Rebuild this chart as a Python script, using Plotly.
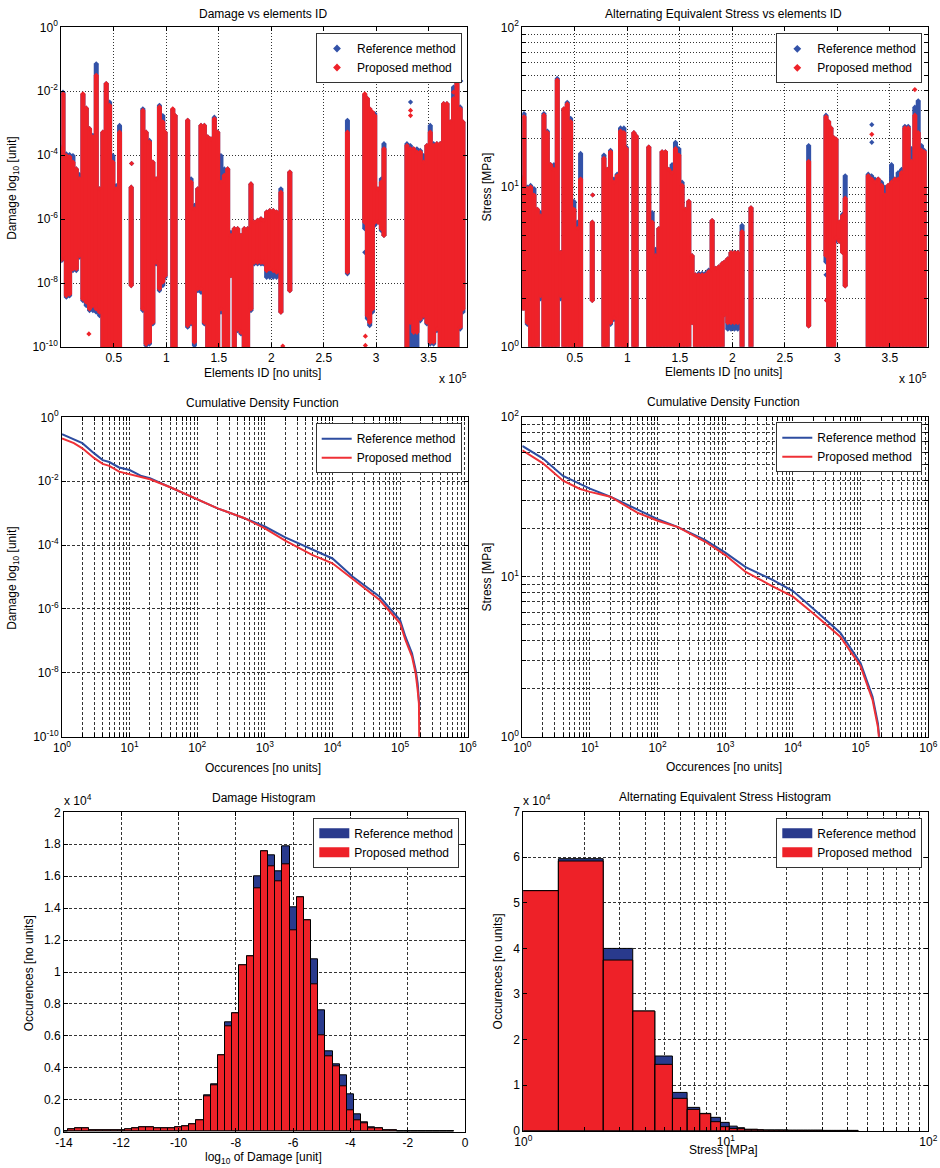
import plotly.graph_objects as go

W, H = 940, 1168
OFF = 0
FONT = "Liberation Sans, Arial, sans-serif"

# ---------------- data: element-wise scatter (column extents, log10 values) ----------------
elem_id = [300, 1600, 4800, 7900, 11100, 14300, 17400, 20600, 23800, 26900, 30100, 33300, 36500, 39600,
           42800, 46000, 49100, 52300, 55500,
           66600,
           77700, 80800, 84000, 87200, 90300, 93500, 96700, 98900,
           106200, 108400,
           120400, 123600, 126800, 130000, 133100, 136300, 139500, 142600, 145800, 149000, 152100, 155300,
           158500, 161600, 164800, 168000, 171200, 174300, 177500, 180700, 183800, 187000, 190200, 192400,
           195600, 198700, 201900, 205100, 209200,
           217700,
           272600,
           289100, 291600, 293800, 296400, 298600, 301700, 304900, 307400,
           329300, 332500, 335700, 338800, 342000, 345200, 348300, 351500, 354700, 357800, 361000, 364200,
           367400, 370500, 373700, 376900, 380000, 382600]

dmg_prop_hi_log10 = [-3.80, -2.08, -4.01, -4.05, -4.22, -4.43, -4.74, -2.08, -2.53, -3.17, -3.43, -1.50, -5.05, -3.28,
                     -1.76, -2.44, -4.22, -5.05, -3.28,
                     -5.00,
                     -2.60, -3.28, -3.59, -4.22, -4.74, -2.49, -2.96, -3.28,
                     -2.55, -2.76,
                     -2.91, -4.84, -5.68, -5.05, -3.07, -3.07, -3.43, -3.49, -2.86, -3.28, -4.84, -4.63,
                     -4.43, -6.51, -6.30, -6.30, -6.51, -6.30, -6.30, -4.90, -6.10, -6.04, -5.99, -6.04,
                     -5.78, -5.73, -5.73, -5.78, -5.16,
                     -4.53,
                     -3.28,
                     -2.08, -2.23, -2.55, -2.65, -2.76, -5.05, -4.84, -3.80,
                     -3.70, -3.80, -3.80, -3.90, -3.90, -4.22, -3.70, -3.28, -3.70, -3.64, -3.64, -2.39,
                     -2.39, -2.96, -2.23, -1.71, -2.55, -2.96]
dmg_prop_lo_log10 = [-7.27, -7.14, -8.39, -8.35, -7.56, -7.56, -7.14, -8.50, -8.60, -8.81, -8.71, -8.81, -8.91, -10.3,
                     -10.3, -10.3, -10.3, -10.3, -10.3,
                     -8.08,
                     -8.81, -9.91, -9.85, -9.23, -7.35, -8.18, -7.97, -7.77,
                     -10.3, -10.3,
                     -9.33, -9.23, -9.85, -8.18, -8.18, -9.23, -10.3, -10.3, -10.3, -10.3, -8.81, -10.3,
                     -10.3, -7.77, -10.3, -9.44, -9.54, -10.3, -10.3, -8.81, -7.35, -7.35, -7.35, -7.35,
                     -7.61, -7.56, -7.61, -7.66, -8.91,
                     -8.24,
                     -7.66,
                     -6.10, -9.02, -9.23, -8.81, -6.10, -6.10, -6.30, -6.51,
                     -10.3, -9.23, -9.54, -9.54, -9.12, -9.02, -9.23, -9.85, -9.85, -9.44, -10.3, -10.3,
                     -10.3, -10.3, -10.3, -10.3, -9.38, -8.81]
dmg_ref_hi_log10 = [-3.75, -2.03, -3.96, -3.98, -4.01, -4.43, -4.61, -2.10, -2.53, -3.17, -3.38, -1.14, -5.05, -3.28,
                    -1.76, -2.34, -4.01, -4.95, -3.07,
                    -5.00,
                    -2.55, -3.28, -3.54, -4.22, -4.74, -2.44, -2.76, -3.28,
                    -2.57, -2.76,
                    -2.91, -4.74, -5.57, -5.05, -3.07, -3.07, -3.43, -3.49, -2.81, -3.28, -4.01, -4.43,
                    -4.43, -6.41, -6.30, -6.30, -6.51, -6.30, -6.30, -4.90, -6.10, -6.04, -5.99, -6.04,
                    -5.78, -5.73, -5.73, -5.78, -5.05,
                    -4.53,
                    -2.91,
                    -2.11, -2.23, -2.55, -2.70, -2.70, -5.05, -4.74, -3.64,
                    -3.64, -3.70, -3.80, -3.80, -3.85, -4.01, -3.70, -3.07, -3.64, -3.64, -3.64, -2.39,
                    -2.39, -2.96, -1.87, -1.66, -2.49, -2.96]
dmg_ref_lo_log10 = [-7.30, -7.19, -8.44, -8.40, -7.61, -7.61, -7.19, -8.55, -8.71, -8.86, -8.86, -8.91, -9.02, -10.3,
                    -10.3, -10.3, -10.3, -10.3, -10.3,
                    -8.08,
                    -8.86, -9.96, -9.91, -9.28, -7.40, -8.24, -8.08, -7.82,
                    -10.3, -10.3,
                    -9.38, -9.28, -9.96, -8.24, -8.29, -9.28, -10.3, -10.3, -10.3, -10.3, -8.91, -10.3,
                    -10.3, -7.77, -10.3, -9.49, -9.59, -10.3, -10.3, -8.86, -7.40, -7.40, -7.40, -7.40,
                    -7.82, -7.82, -7.82, -7.82, -8.91,
                    -8.24,
                    -7.71,
                    -6.30, -9.12, -9.33, -8.91, -6.20, -6.10, -6.36, -6.51,
                    -10.3, -10.3, -9.96, -10.3, -9.18, -9.07, -9.28, -9.91, -9.91, -9.49, -10.3, -10.3,
                    -10.3, -10.3, -10.3, -10.3, -9.44, -8.91]

# isolated damage points
dmg_ref_pt_id = [67000, 380600, 289100, 332700]
dmg_ref_pt_log10 = [-4.26, -1.68, -7.04, -2.34]
dmg_prop_pt_id = [26300, 67000, 289700, 289700, 211000, 373700, 373700, 332700, 332700]
dmg_prop_pt_log10 = [-9.59, -4.26, -9.66, -9.95, -9.97, -1.50, -2.03, -2.60, -2.76]

str_prop_hi_log10 = [1.05, 1.44, 0.99, 1.00, 0.95, 0.86, 0.82, 1.45, 1.34, 1.14, 1.11, 1.67, 0.59, 1.49,
                     1.52, 1.41, 0.86, 0.74, 1.05,
                     0.78,
                     1.18, 1.11, 1.22, 1.03, 1.07, 1.35, 1.34, 1.24,
                     1.34, 1.32,
                     1.25, 0.78, 0.57, 0.74, 1.22, 1.22, 1.11, 1.09, 1.24, 1.20, 1.01, 0.86,
                     0.91, 0.57, 0.45, 0.45, 0.45, 0.45, 0.47, 0.79, 0.49, 0.50, 0.52, 0.53,
                     0.55, 0.59, 0.59, 0.59, 0.72,
                     0.87,
                     1.16,
                     1.44, 1.41, 1.37, 1.31, 1.30, 0.78, 0.82, 0.93,
                     1.07, 1.05, 1.03, 1.05, 1.01, 0.95, 1.01, 1.03, 1.05, 1.05, 1.09, 1.37,
                     1.37, 1.16, 1.45, 1.34, 1.23, 1.22]
str_prop_lo_log10 = [0.24, 0.24, 0.15, -0.1, -0.1, -0.1, 0.32, -0.1, -0.1, -0.1, -0.1, -0.1, 0.32, -0.1,
                     -0.1, -0.1, -0.1, -0.1, -0.1,
                     0.29,
                     -0.1, -0.1, 0.15, 0.18, -0.1, -0.1, -0.1, -0.1,
                     -0.1, -0.1,
                     -0.1, -0.1, -0.1, -0.1, -0.1, -0.1, -0.1, -0.1, -0.1, -0.1, -0.1, -0.1,
                     -0.1, 0.15, -0.1, -0.1, -0.1, -0.1, -0.1, -0.1, -0.1, -0.1, -0.1, 0.20,
                     0.15, 0.15, 0.15, 0.15, -0.1,
                     -0.1,
                     0.13,
                     0.57, -0.1, -0.1, -0.1, 0.68, 0.66, 0.59, 0.38,
                     -0.1, -0.1, -0.1, -0.1, -0.1, -0.1, -0.1, -0.1, -0.1, -0.1, -0.1, -0.1,
                     -0.1, -0.1, -0.1, -0.1, -0.1, -0.1]
str_ref_hi_log10 = [1.06, 1.46, 1.00, 1.01, 0.99, 0.86, 0.84, 1.46, 1.35, 1.14, 1.14, 1.68, 0.59, 1.49,
                    1.53, 1.43, 0.91, 0.78, 1.21,
                    0.78,
                    1.20, 1.11, 1.23, 1.05, 1.08, 1.37, 1.37, 1.25,
                    1.34, 1.32,
                    1.25, 0.84, 0.61, 0.74, 1.22, 1.22, 1.11, 1.14, 1.28, 1.24, 1.03, 0.86,
                    0.91, 0.57, 0.45, 0.46, 0.46, 0.46, 0.48, 0.79, 0.49, 0.50, 0.52, 0.53,
                    0.55, 0.59, 0.59, 0.59, 0.76,
                    0.87,
                    1.26,
                    1.45, 1.41, 1.37, 1.31, 1.30, 0.78, 0.83, 1.07,
                    1.08, 1.07, 1.05, 1.05, 1.03, 1.00, 1.01, 1.14, 1.05, 1.09, 1.11, 1.38,
                    1.38, 1.24, 1.50, 1.54, 1.26, 1.23]
str_ref_lo_log10 = [0.24, 0.24, 0.14, -0.1, -0.1, -0.1, 0.30, -0.1, -0.1, -0.1, -0.1, -0.1, 0.30, -0.1,
                    -0.1, -0.1, -0.1, -0.1, -0.1,
                    0.29,
                    -0.1, -0.1, 0.14, 0.17, -0.1, -0.1, -0.1, -0.1,
                    -0.1, -0.1,
                    -0.1, -0.1, -0.1, -0.1, -0.1, -0.1, -0.1, -0.1, -0.1, -0.1, -0.1, -0.1,
                    -0.1, 0.15, -0.1, -0.1, -0.1, -0.1, -0.1, -0.1, -0.1, -0.1, -0.1, 0.20,
                    0.11, 0.11, 0.11, 0.11, -0.1,
                    -0.1,
                    0.13,
                    0.53, -0.1, -0.1, -0.1, 0.66, 0.66, 0.59, 0.38,
                    -0.1, -0.1, -0.1, -0.1, -0.1, -0.1, -0.1, -0.1, -0.1, -0.1, -0.1, -0.1,
                    -0.1, -0.1, -0.1, -0.1, -0.1, -0.1]

str_ref_pt_id = [332700, 332700, 67000, 289100, 289700]
str_ref_pt_log10 = [1.39, 1.28, 0.95, 0.45, 0.29]
str_prop_pt_id = [67000, 373700, 373700, 332700, 289700]
str_prop_pt_log10 = [0.95, 1.71, 1.61, 1.33, 0.29]

# ---------------- data: cumulative curves ----------------
cdf_dmg_occ = [1, 1.5, 2, 3, 4, 5, 7, 10, 15, 20, 40, 100, 200, 500, 1000, 2000, 5000, 10000, 20000,
               50000, 100000, 120000, 150000, 170000, 182000, 190000, 193000]
cdf_dmg_ref_log10 = [-0.53, -0.69, -0.81, -1.13, -1.34, -1.40, -1.57, -1.65, -1.84, -1.91, -2.19, -2.57, -2.85,
                     -3.16, -3.42, -3.76, -4.15, -4.42, -4.99, -5.62, -6.35, -6.87, -7.39, -7.91, -8.33,
                     -8.75, -9.06]
cdf_dmg_prop_log10 = [-0.66, -0.81, -0.97, -1.28, -1.46, -1.52, -1.70, -1.78, -1.86, -1.94, -2.19, -2.57, -2.85,
                      -3.16, -3.48, -3.86, -4.31, -4.57, -5.07, -5.72, -6.45, -6.97, -7.49, -8.02, -8.54,
                      -8.96, -10.6]

cdf_str_occ = [1, 2, 4, 7, 10, 20, 50, 100, 200, 500, 1000, 2000, 5000, 10000, 20000, 50000, 100000,
               150000, 180000, 190000]
cdf_str_ref_log10 = [1.817, 1.74, 1.63, 1.58, 1.55, 1.50, 1.42, 1.36, 1.31, 1.23, 1.15, 1.06, 0.98, 0.91,
                     0.80, 0.65, 0.46, 0.25, 0.083, -0.02]
cdf_str_prop_log10 = [1.79, 1.71, 1.60, 1.55, 1.53, 1.50, 1.40, 1.35, 1.31, 1.22, 1.135, 1.03, 0.94, 0.875,
                      0.77, 0.625, 0.44, 0.23, 0.06, -0.04]

# ---------------- data: histograms ----------------
dmg_bin_centers = [-14.0, -13.75, -13.5, -13.25, -13.0, -12.75, -12.5, -12.25, -12.0, -11.75, -11.5, -11.25,
                   -11.0, -10.75, -10.5, -10.25, -10.0, -9.75, -9.5, -9.25, -9.0, -8.75, -8.5, -8.25, -8.0,
                   -7.75, -7.5, -7.25, -7.0, -6.75, -6.5, -6.25, -6.0, -5.75, -5.5, -5.25, -5.0, -4.75, -4.5,
                   -4.25, -4.0, -3.75, -3.5, -3.25, -3.0, -2.75, -2.5, -2.25, -2.0, -1.75, -1.5, -1.25, -1.0,
                   -0.75, -0.5]
dmg_hist_ref = [50, 150, 200, 200, 100, 100, 100, 100, 100, 150, 200, 270, 270, 200, 200, 200, 270, 350, 480,
                730, 2250, 2940, 4780, 6830, 7410, 10400, 10960, 15970, 17550, 17300, 16330, 17890, 14050,
                14680, 13260, 10790, 7580, 5010, 4240, 3530, 2320, 1070, 560, 270, 190, 90, 90, 40, 40, 40,
                40, 30, 30, 30, 30]
dmg_hist_prop = [50, 150, 200, 200, 100, 100, 100, 100, 100, 150, 200, 270, 270, 200, 200, 200, 270, 350, 480,
                 730, 2230, 2920, 4780, 6580, 7410, 10400, 10960, 15240, 17550, 16600, 15660, 16760, 12590,
                 14680, 13260, 9230, 6050, 4700, 4110, 2820, 1360, 690, 520, 230, 190, 90, 90, 40, 40, 40,
                 40, 30, 30, 30, 30]

str_bin_edges = [0.50, 1.49, 2.48, 3.47, 4.46, 5.45, 6.44, 7.43, 8.42, 9.41, 10.40, 11.39, 12.38, 13.37, 14.36,
                 15.35, 16.34, 17.33, 18.32, 19.31, 20.30, 21.29, 22.28, 23.27, 24.26, 25.25, 26.24, 27.23,
                 28.22, 29.21, 30.20, 31.19, 32.18, 33.17, 34.16, 35.15, 36.14, 37.13, 38.12, 39.11, 40.10,
                 41.09, 42.08, 43.07, 44.06, 45.05]
str_hist_ref = [52700, 59690, 40000, 26260, 16390, 8400, 5120, 3800, 2930, 1830, 1000, 660, 300, 300, 200,
                150, 150, 150, 150, 150, 100, 100, 100, 100, 100, 100, 100, 100, 100, 100,
                60, 60, 60, 60, 60, 60, 60, 60, 60, 60, 60, 60, 60, 60, 60]
str_hist_prop = [52670, 59180, 37450, 26260, 14560, 7100, 4680, 3730, 1980, 880, 500, 440, 300, 300, 200,
                 150, 150, 150, 150, 150, 100, 100, 100, 100, 100, 100, 100, 100, 100, 100,
                 60, 60, 60, 60, 60, 60, 60, 60, 60, 60, 60, 60, 60, 60, 60]

labels = ["Reference method", "Proposed method"]

# ---------------- colours ----------------
SC_BLUE, SC_RED = "#3352a8", "#ee2229"
LN_BLUE, LN_RED = "#2e4da0", "#ef3036"
BAR_BLUE, BAR_RED = "#293a8d", "#ee2128"


def columns(ids, lo, hi):
    xs, ys = [], []
    for x, a, b in zip(ids, lo, hi):
        xs += [x, x, None]
        ys += [10 ** a, 10 ** b, None]
    return xs, ys


def pw(vals):
    return [10 ** v for v in vals]


def rects(edges, counts):
    xs, ys = [], []
    for i, c in enumerate(counts):
        l, r = edges[i], edges[i + 1]
        xs += [l, l, r, r, l, None]
        ys += [0, c, c, 0, 0, None]
    return xs, ys


fig = go.Figure()

# ---- top row scatter-like columns ----
for (xa, ya, leg, r_lo, r_hi, p_lo, p_hi, rp_id, rp_v, pp_id, pp_v) in [
    ("x", "y", "legend", dmg_ref_lo_log10, dmg_ref_hi_log10, dmg_prop_lo_log10, dmg_prop_hi_log10,
     dmg_ref_pt_id, dmg_ref_pt_log10, dmg_prop_pt_id, dmg_prop_pt_log10),
    ("x2", "y2", "legend2", str_ref_lo_log10, str_ref_hi_log10, str_prop_lo_log10, str_prop_hi_log10,
     str_ref_pt_id, str_ref_pt_log10, str_prop_pt_id, str_prop_pt_log10),
]:
    for lo, hi, pid, pv, col in [(r_lo, r_hi, rp_id, rp_v, SC_BLUE), (p_lo, p_hi, pp_id, pp_v, SC_RED)]:
        xs, ys = columns(elem_id, lo, hi)
        fig.add_trace(go.Scatter(x=xs, y=ys, mode="lines+markers", xaxis=xa, yaxis=ya, showlegend=False,
                                 line=dict(color=col, width=5),
                                 marker=dict(symbol="diamond", size=4, color=col), hoverinfo="skip"))
        fig.add_trace(go.Scatter(x=pid, y=pw(pv), mode="markers", xaxis=xa, yaxis=ya, showlegend=False,
                                 marker=dict(symbol="diamond", size=4, color=col), hoverinfo="skip"))
    for name, col in zip(labels, [SC_BLUE, SC_RED]):
        fig.add_trace(go.Scatter(x=[None], y=[None], mode="markers", xaxis=xa, yaxis=ya, name=name,
                                 legend=leg, marker=dict(symbol="diamond", size=6, color=col)))

# ---- middle row CDF ----
for xa, ya, leg, occ, ref, prop in [("x3", "y3", "legend3", cdf_dmg_occ, cdf_dmg_ref_log10, cdf_dmg_prop_log10),
                                    ("x4", "y4", "legend4", cdf_str_occ, cdf_str_ref_log10, cdf_str_prop_log10)]:
    for name, vals, col in zip(labels, [ref, prop], [LN_BLUE, LN_RED]):
        fig.add_trace(go.Scatter(x=occ, y=pw(vals), mode="lines", xaxis=xa, yaxis=ya, name=name, legend=leg,
                                 line=dict(color=col, width=2)))

# ---- bottom row histograms ----
for name, vals, col in zip(labels, [dmg_hist_ref, dmg_hist_prop], [BAR_BLUE, BAR_RED]):
    fig.add_trace(go.Bar(x=dmg_bin_centers, y=vals, xaxis="x5", yaxis="y5", showlegend=False,
                         marker=dict(color=col, line=dict(color="black", width=1))))
for name, vals, col in zip(labels, [str_hist_ref, str_hist_prop], [BAR_BLUE, BAR_RED]):
    xs, ys = rects(str_bin_edges, vals)
    fig.add_trace(go.Scatter(x=xs, y=ys, mode="lines", fill="toself", fillcolor=col, xaxis="x6", yaxis="y6",
                             showlegend=False, line=dict(color="black", width=1), hoverinfo="skip"))
for xa, ya, leg in [("x5", "y5", "legend5"), ("x6", "y6", "legend6")]:
    for name, col in zip(labels, [BAR_BLUE, BAR_RED]):
        fig.add_trace(go.Scatter(x=[None], y=[None], mode="lines", xaxis=xa, yaxis=ya, name=name, legend=leg,
                                 line=dict(color=col, width=12)))


# ---------------- geometry helpers (window pixels -> paper fractions) ----------------
def fx(px):
    return (px - OFF) / W


def fy(py):
    return 1 - (py - OFF) / H


def dom_x(a, b):
    return [fx(a), fx(b)]


def dom_y(top, bottom):
    return [fy(bottom), fy(top)]


def axis(domain, anchor, dash, **kw):
    d = dict(domain=domain, anchor=anchor, showline=True, linecolor="black", linewidth=1, mirror="ticks",
             ticks="inside", ticklen=4, tickcolor="black", tickwidth=1, showgrid=True, gridcolor="#333",
             gridwidth=1, griddash=dash, zeroline=False, tickfont=dict(size=12, color="black", family=FONT),
             tickmode="array", tickangle=0, fixedrange=True, automargin=False)
    d.update(kw)
    return d


def sup(e):
    return "10<sup>%d</sup>" % e


def log_ticks(d0, d1, minor=True):
    vals, txt = [], []
    for d in range(d0, d1):
        for k in range(1, 10 if minor else 2):
            vals.append(k * 10.0 ** d)
            txt.append(sup(d) if k == 1 else "")
    vals.append(10.0 ** d1)
    txt.append(sup(d1))
    return vals, txt


DOT = "1px,2px"
DASH = "3px,2px"

id_ticks = [50000, 100000, 150000, 200000, 250000, 300000, 350000]
id_text = ["0.5", "1", "1.5", "2", "2.5", "3", "3.5"]
dmg_tv = [1e-10, 1e-8, 1e-6, 1e-4, 1e-2, 1]
dmg_tt = [sup(e) for e in [-10, -8, -6, -4, -2, 0]]
s_tv, s_tt = log_ticks(0, 2)
o_tv, o_tt = log_ticks(0, 6)

layout_axes = dict(
    xaxis=axis(dom_x(61.3, 467), "y", DOT, range=[0, 386500], tickvals=id_ticks, ticktext=id_text),
    yaxis=axis(dom_y(27.3, 347), "x", DOT, type="log", range=[-10, 0], tickvals=dmg_tv, ticktext=dmg_tt),
    xaxis2=axis(dom_x(522.3, 928.3), "y2", DOT, range=[0, 386500], tickvals=id_ticks, ticktext=id_text),
    yaxis2=axis(dom_y(27.3, 346.7), "x2", DOT, type="log", range=[0, 2], tickvals=s_tv, ticktext=s_tt),
    xaxis3=axis(dom_x(62, 467.7), "y3", DASH, type="log", range=[0, 6], tickvals=o_tv, ticktext=o_tt),
    yaxis3=axis(dom_y(417.3, 736.7), "x3", DASH, type="log", range=[-10, 0], tickvals=dmg_tv, ticktext=dmg_tt),
    xaxis4=axis(dom_x(522.3, 928.3), "y4", DASH, type="log", range=[0, 6], tickvals=o_tv, ticktext=o_tt),
    yaxis4=axis(dom_y(416.7, 736.7), "x4", DASH, type="log", range=[0, 2], tickvals=s_tv, ticktext=s_tt),
    xaxis5=axis(dom_x(64, 465), "y5", DASH, range=[-14, 0], tickvals=list(range(-14, 1, 2)),
                ticktext=[str(v) for v in range(-14, 1, 2)]),
    yaxis5=axis(dom_y(812.3, 1131.7), "x5", DASH, range=[0, 20000], tickvals=list(range(0, 20001, 2000)),
                ticktext=["0", "0.2", "0.4", "0.6", "0.8", "1", "1.2", "1.4", "1.6", "1.8", "2"]),
    xaxis6=axis(dom_x(523.3, 928.3), "y6", DASH, type="log", range=[0, 2], tickvals=s_tv, ticktext=s_tt),
    yaxis6=axis(dom_y(811.7, 1130.7), "x6", DASH, range=[0, 70000], tickvals=list(range(0, 70001, 10000)),
                ticktext=[str(v) for v in range(8)]),
)


# ---------------- legends ----------------
def legend(right, top):
    return dict(x=fx(right), y=fy(top), xanchor="right", yanchor="top", xref="paper", yref="paper",
                bgcolor="white", bordercolor="#333", borderwidth=1, font=dict(size=12, color="black", family=FONT),
                tracegroupgap=0, itemclick=False, itemdoubleclick=False)


legends = dict(legend=legend(462, 33), legend2=legend(922.3, 33.3), legend3=legend(461.7, 423.3),
               legend4=legend(922.3, 422.3), legend5=legend(459.3, 817.7), legend6=legend(922.3, 817.7))


# ---------------- annotations (titles) ----------------
def ann(text, x, y, angle=0):
    return dict(text=text, x=fx(x), y=fy(y), xref="paper", yref="paper", showarrow=False,
                xanchor="center", yanchor="middle", textangle=angle,
                font=dict(size=12, color="black", family=FONT))


annotations = [
    ann("Damage vs elements ID", 262.5, 13.5),
    ann("Alternating Equivalent Stress vs elements ID", 723.5, 13.5),
    ann("Cumulative Density Function", 262.5, 403.3),
    ann("Cumulative Density Function", 723.3, 402.3),
    ann("Damage Histogram", 263.3, 798.3),
    ann("Alternating Equivalent Stress Histogram", 724.7, 797.3),
    ann("Elements ID [no units]", 262.8, 373.3),
    ann("Elements ID [no units]", 723.3, 372.3),
    ann("x 10<sup>5</sup>", 453, 378),
    ann("x 10<sup>5</sup>", 913.3, 378),
    ann("Damage log<sub>10</sub> [unit]", 13.5, 188.3, -90),
    ann("Stress [MPa]", 486.7, 186.7, -90),
    ann("Occurences [no units]", 263.3, 768.3),
    ann("Occurences [no units]", 723.8, 767.3),
    ann("Damage log<sub>10</sub> [unit]", 13.5, 578.3, -90),
    ann("Stress [MPa]", 486.7, 576.7, -90),
    ann("log<sub>10</sub> of Damage [unit]", 263.3, 1158),
    ann("Occurences [no units]", 29, 973.3, -90),
    ann("x 10<sup>4</sup>", 78.3, 800.5),
    ann("Stress [MPa]", 723.8, 1150),
    ann("Occurences [no units]", 497.7, 971.7, -90),
    ann("x 10<sup>4</sup>", 536.7, 800),
]

fig.update_layout(
    width=W, height=H, autosize=False,
    margin=dict(l=0, r=0, t=0, b=0, pad=0, autoexpand=False),
    paper_bgcolor="white", plot_bgcolor="white",
    font=dict(family=FONT, size=12, color="black"),
    barmode="overlay", bargap=0,
    showlegend=True, hovermode=False,
    annotations=annotations,
    **layout_axes, **legends,
)

fig.write_html("out.html")
